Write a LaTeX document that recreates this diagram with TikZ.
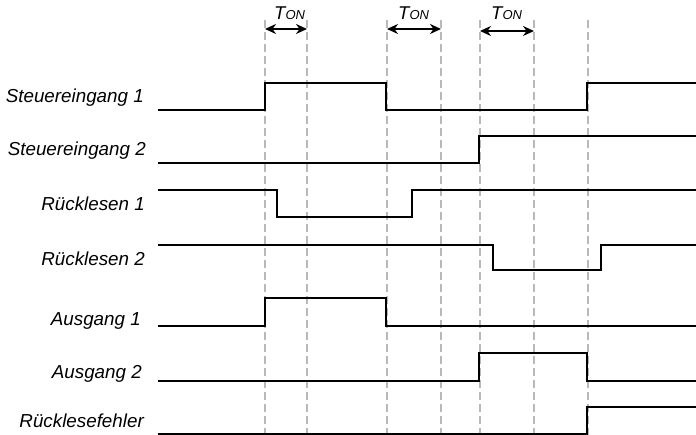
\documentclass[tikz,border=0pt]{standalone}
\usepackage{fontspec}
\setmainfont{Liberation Sans}
\usetikzlibrary{arrows.meta}
\begin{document}
\begin{tikzpicture}[x=1pt,y=-1pt,
  sig/.style={line width=2.7pt,line join=miter},
  guide/.style={gray!55,line width=1.3pt,dash pattern=on 8pt off 4pt},
  lbl/.style={anchor=base east,inner sep=0pt,font=\fontsize{18.8}{22}\selectfont\itshape},
  ton/.style={anchor=base west,inner sep=0pt},
  span/.style={line width=2.6pt,{Stealth[length=11pt,width=10pt]}-{Stealth[length=11pt,width=10pt]}}]
\useasboundingbox (0,0) rectangle (696,435);
% dashed guide lines
\foreach \n/\x in {a/265,b/307,c/387,d/441,e/480,f/534,g/588}{
  \coordinate (\n top) at (\x,20);
  \coordinate (\n bot) at (\x,435);
  \draw[guide] (\n top) -- (\n bot);
}
% T_ON spans
\coordinate (a29) at (265,29); \coordinate (b29) at (307,29);
\coordinate (c29) at (387,29); \coordinate (d29) at (441,29);
\coordinate (e31) at (480,31); \coordinate (f31) at (534,31);
\draw[span] (a29) -- (b29);
\draw[span] (c29) -- (d29);
\draw[span] (e31) -- (f31);
\node[ton] (t1) at (274,20) {\fontsize{18.5}{20}\selectfont\itshape T\fontsize{13}{13}\selectfont ON};
\node[ton] (t2) at (398,20) {\fontsize{18.5}{20}\selectfont\itshape T\fontsize{13}{13}\selectfont ON};
\node[ton] (t3) at (491,20) {\fontsize{18.5}{20}\selectfont\itshape T\fontsize{13}{13}\selectfont ON};
% labels
\node[lbl] (l1) at (144,103) {Steuereingang 1};
\node[lbl] (l2) at (146,156) {Steuereingang 2};
\node[lbl] (l3) at (145,211) {Rücklesen 1};
\node[lbl] (l4) at (145,266) {Rücklesen 2};
\node[lbl] (l5) at (141,326) {Ausgang 1};
\node[lbl] (l6) at (142,379) {Ausgang 2};
\node[lbl] (l7) at (144,428) {Rücklesefehler};
% signals
\draw[sig] (158,110) -- (265,110) -- (265,83) -- (386,83) -- (386,110) -- (587,110) -- (587,83) -- (696,83);
\draw[sig] (158,163) -- (479,163) -- (479,136) -- (696,136);
\draw[sig] (158,190) -- (277,190) -- (277,217) -- (412,217) -- (412,190) -- (696,190);
\draw[sig] (158,245) -- (493,245) -- (493,270) -- (601,270) -- (601,245) -- (696,245);
\draw[sig] (158,326) -- (265,326) -- (265,298) -- (386,298) -- (386,326) -- (696,326);
\draw[sig] (158,381) -- (479,381) -- (479,353) -- (587,353) -- (587,381) -- (696,381);
\draw[sig] (158,434) -- (587,434) -- (587,407) -- (696,407);
\end{tikzpicture}
\end{document}
